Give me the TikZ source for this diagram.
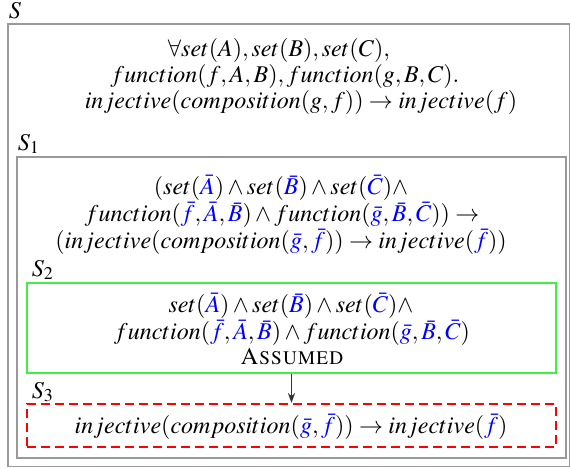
\documentclass[tikz,border=0pt]{standalone}
\IfFileExists{mathptmx.sty}{\usepackage[T1]{fontenc}\usepackage{mathptmx}}{}
\usetikzlibrary{arrows.meta,fit}
\definecolor{boxgray}{gray}{0.6}
\definecolor{assumegreen}{RGB}{64,240,64}
\definecolor{goalred}{RGB}{255,0,0}
\newcommand{\bv}[1]{\textcolor{blue}{#1}}
\begin{document}
\begin{tikzpicture}[x=0.5pt,y=-0.5pt,
  txt/.style={font=\fontsize{12}{14}\selectfont, inner sep=0pt},
  lbl/.style={font=\fontsize{12}{14}\selectfont, inner sep=0pt},
  graybox/.style={draw=boxgray, line width=0.6pt, inner sep=0pt},
  greenbox/.style={draw=assumegreen, line width=1.1pt, inner sep=0pt},
  redbox/.style={draw=goalred, line width=1.1pt, dash pattern=on 4.5pt off 2.5pt, inner sep=0pt}]
\useasboundingbox (0,0) rectangle (570,468);
% boxes
\node[graybox, fit={(8,24) (569.2,466.5)}] (Sbox) {};
\node[graybox, fit={(17,157) (566,458)}] (Sonebox) {};
\node[greenbox, fit={(27,283) (556,373)}] (Stwobox) {};
\node[redbox, fit={(27,404) (556,447)}] (Sthreebox) {};
% labels
\node[lbl] (Slbl) at (15,11) {$S$};
\node[lbl] (Sonelbl) at (29,144) {$S_1$};
\node[lbl] (Stwolbl) at (43,270) {$S_2$};
\node[lbl] (Sthreelbl) at (43,392) {$S_3$};
% top text
\node[txt] (ta) at (279,50) {$\forall set(A), set(B), set(C),$};
\node[txt] (tb) at (285,76) {$function(f, A, B), function(g, B, C).$};
\node[txt] (tc) at (301,102) {$injective(composition(g, f)) \rightarrow injective(f)$};
% S1 text
\node[txt] (oa) at (281,188) {$(set(\bv{\bar{A}}) \wedge set(\bv{\bar{B}}) \wedge set(\bv{\bar{C}}) \wedge$};
\node[txt] (ob) at (282,215) {$function(\bv{\bar{f}}, \bv{\bar{A}}, \bv{\bar{B}}) \wedge function(\bv{\bar{g}}, \bv{\bar{B}}, \bv{\bar{C}})) \rightarrow$};
\node[txt] (oc) at (281,242) {$(injective(composition(\bv{\bar{g}}, \bv{\bar{f}})) \rightarrow injective(\bv{\bar{f}}))$};
% S2 text
\node[txt] (wa) at (291,306) {$set(\bv{\bar{A}}) \wedge set(\bv{\bar{B}}) \wedge set(\bv{\bar{C}}) \wedge$};
\node[txt] (wb) at (292,333) {$function(\bv{\bar{f}}, \bv{\bar{A}}, \bv{\bar{B}}) \wedge function(\bv{\bar{g}}, \bv{\bar{B}}, \bv{\bar{C}})$};
\node[txt] (wc) at (292,357) {\textsc{Assumed}};
% S3 text
\node[txt] (ra) at (291,427) {$injective(composition(\bv{\bar{g}}, \bv{\bar{f}})) \rightarrow injective(\bv{\bar{f}})$};
% arrow
\draw[-{Stealth[length=5pt,width=3.6pt]}, line width=0.5pt, black!80] (Stwobox.south) -- (Sthreebox.north);
\end{tikzpicture}
\end{document}
